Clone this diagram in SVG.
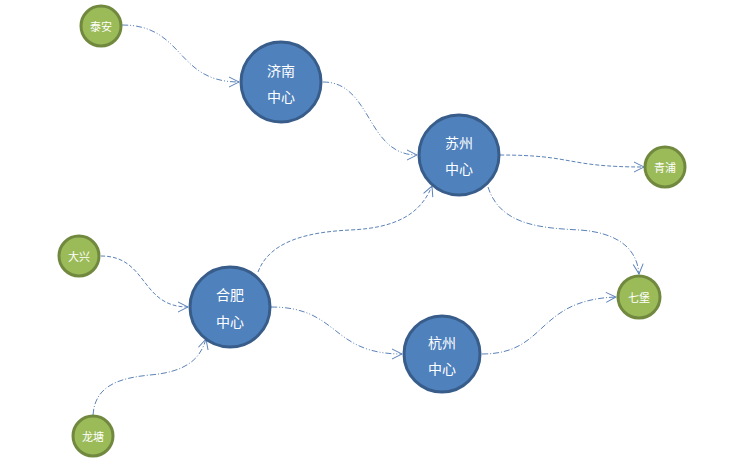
<svg xmlns="http://www.w3.org/2000/svg" width="737" height="464" viewBox="0 0 737 464">
<style>
.big{fill:#4F81BD;stroke:#385D8A;stroke-width:3}
.small{fill:#9BBB59;stroke:#71893F;stroke-width:3}
.t{fill:#ffffff;font-family:"Noto Sans CJK SC","Noto Sans",sans-serif;text-anchor:middle;dominant-baseline:central}
.tb{font-size:14px}
.ts{font-size:11px}
.c{fill:none;stroke:#5B82B8;stroke-width:1;marker-end:url(#arr)}
.dd{stroke-dasharray:6 2 1 2 1 2}
.da{stroke-dasharray:4 2}
.dt{stroke-dasharray:6 2 1 2}
</style>
<defs>
<marker id="arr" viewBox="0 0 12 12" refX="11" refY="6" markerWidth="12" markerHeight="12" markerUnits="userSpaceOnUse" orient="auto">
<path d="M1,1 L11,6 L1,11" fill="none" stroke="#5B82B8" stroke-width="1"/>
</marker>
</defs>
<rect width="737" height="464" fill="#ffffff"/>
<g id="connectors">
<path class="c dd" d="M122,25 C185,25 175,82 239,82"/>
<path class="c dd" d="M323,82 C372,82 366,155 417,155"/>
<path class="c da" d="M500,155 C575,155 565,167 644,167"/>
<path class="c dt" d="M488,187 C500,225 540,228 580,230 C620,233 637,250 639,274"/>
<path class="c da" d="M258,272 C270,240 310,232 350,230 C395,228 420,215 432,186"/>
<path class="c da" d="M101,256 C148,256 140,307 188,307"/>
<path class="c dt" d="M93,415 C95,385 120,378 150,375 C185,372 200,360 206,339"/>
<path class="c dd" d="M271,307 C340,307 330,354 402,354"/>
<path class="c dt" d="M482,354 C548,354 535,300 616,297"/>
</g>
<g id="taian"><circle class="small" cx="101" cy="26" r="20"/><text class="t ts" x="101" y="26">泰安</text></g>
<g id="jinan"><circle class="big" cx="281" cy="82" r="40"/><text class="t tb" x="281" y="70">济南</text><text class="t tb" x="281" y="96">中心</text></g>
<g id="suzhou"><circle class="big" cx="459" cy="155" r="40"/><text class="t tb" x="459" y="142">苏州</text><text class="t tb" x="459" y="168">中心</text></g>
<g id="qingpu"><circle class="small" cx="665" cy="167" r="20"/><text class="t ts" x="665" y="167">青浦</text></g>
<g id="qibao"><circle class="small" cx="639" cy="297" r="21"/><text class="t ts" x="639" y="297">七堡</text></g>
<g id="daxing"><circle class="small" cx="79" cy="256" r="20"/><text class="t ts" x="79" y="256">大兴</text></g>
<g id="hefei"><circle class="big" cx="230" cy="307" r="40"/><text class="t tb" x="230" y="294">合肥</text><text class="t tb" x="230" y="321">中心</text></g>
<g id="longtang"><circle class="small" cx="93" cy="436" r="20"/><text class="t ts" x="93" y="436">龙塘</text></g>
<g id="hangzhou"><circle class="big" cx="442" cy="354" r="38"/><text class="t tb" x="442" y="342">杭州</text><text class="t tb" x="442" y="368">中心</text></g>
</svg>
